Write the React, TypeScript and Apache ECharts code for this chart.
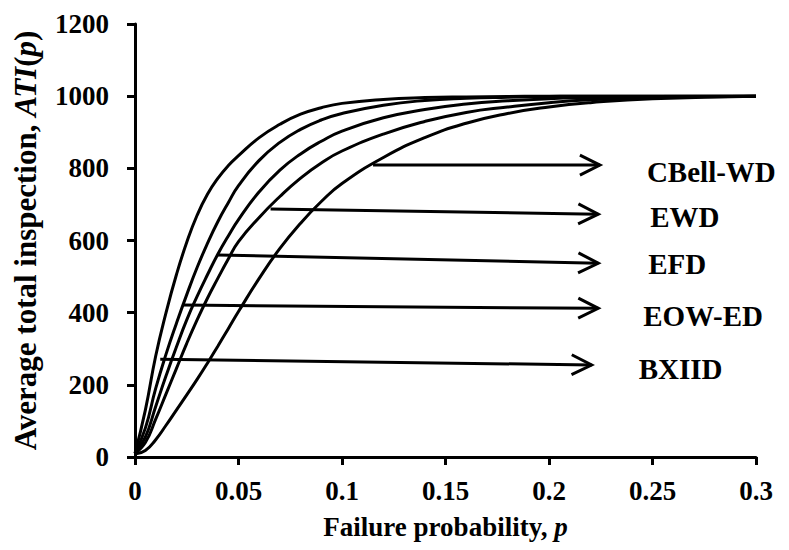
import React, { useEffect, useRef } from "react";
import * as echarts from "echarts";

const pValues = [0, 0.005, 0.01, 0.015, 0.02, 0.025, 0.03, 0.035, 0.04, 0.045, 0.05, 0.06, 0.07, 0.08, 0.09, 0.1, 0.12, 0.14, 0.16, 0.18, 0.2, 0.22, 0.25, 0.3];
const bxiid = [10, 130, 280, 400, 505, 595, 670, 728, 772, 807, 835, 885, 922, 950, 968, 980, 991, 996, 998, 999, 1000, 1000, 1000, 1000];
const eowed = [10, 80, 190, 285, 370, 450, 525, 592, 652, 704, 752, 822, 872, 908, 934, 952, 975, 988, 994, 997, 999, 1000, 1000, 1000];
const efd = [10, 55, 140, 225, 305, 380, 445, 505, 562, 612, 658, 735, 795, 840, 875, 903, 940, 963, 978, 987, 993, 996, 999, 1000];
const ewd = [10, 40, 105, 175, 245, 315, 380, 440, 495, 548, 597, 664, 722, 773, 815, 848, 895, 930, 955, 970, 982, 990, 996, 1000];
const cbellwd = [8, 18, 48, 88, 130, 172, 215, 260, 307, 355, 403, 495, 578, 648, 708, 758, 830, 885, 925, 952, 970, 982, 993, 1000];

const curveNames = ["BXIID", "EOW-ED", "EFD", "EWD", "CBell-WD"];
const curveValues = [bxiid, eowed, efd, ewd, cbellwd];

const arrowNames = ["CBell-WD", "EWD", "EFD", "EOW-ED", "BXIID"];
const arrowStartP = [0.115, 0.0655, 0.04, 0.0231, 0.0122];
const arrowStartATI = [809, 687, 560, 421, 271];
const arrowEndP = [0.2246, 0.2238, 0.2238, 0.2238, 0.2206];
const arrowEndATI = [809, 673, 537, 412, 255];

const xTicks = [0, 0.05, 0.1, 0.15, 0.2, 0.25, 0.3];
const yTicks = [0, 200, 400, 600, 800, 1000, 1200];

const FONT = "Liberation Serif, Times New Roman, Tinos, DejaVu Serif, serif";
const labelOffsets = [[47, 7], [52, 3], [50, 1], [45, 8], [47, 4]];

export default function App() {
  const ref = useRef<HTMLDivElement>(null);
  useEffect(() => {
    if (!ref.current) return;
    const chart = echarts.init(ref.current, undefined, { renderer: "svg" });
    const lineSeries = curveNames.map((name, i) => ({
      name,
      type: "line",
      data: pValues.map((p, j) => [p, curveValues[i][j]]),
      showSymbol: false,
      smooth: 0.5,
      lineStyle: { color: "#000", width: 3 },
      z: 3,
    }));
    const arrowData = arrowNames.map((n, i) => [arrowStartP[i], arrowStartATI[i], arrowEndP[i], arrowEndATI[i], i]);
    const arrowSeries = {
      type: "custom",
      data: arrowData,
      encode: { x: [0, 2], y: [1, 3] },
      z: 4,
      renderItem: (params: any, api: any) => {
        const a = api.coord([api.value(0), api.value(1)]);
        const b = api.coord([api.value(2), api.value(3)]);
        const idx = api.value(4);
        const dx = b[0] - a[0];
        const dy = b[1] - a[1];
        const len = Math.sqrt(dx * dx + dy * dy);
        const ux = dx / len;
        const uy = dy / len;
        const L = 20;
        const W = 10;
        const p1 = [b[0] - L * ux - W * uy, b[1] - L * uy + W * ux];
        const p2 = [b[0] - L * ux + W * uy, b[1] - L * uy - W * ux];
        const off = labelOffsets[idx];
        return {
          type: "group",
          children: [
            {
              type: "line",
              shape: { x1: a[0], y1: a[1], x2: b[0], y2: b[1] },
              style: { stroke: "#000", lineWidth: 3 },
            },
            {
              type: "polyline",
              shape: { points: [p1, b, p2] },
              style: { stroke: "#000", lineWidth: 3, fill: "none" },
            },
            {
              type: "text",
              x: b[0] + off[0],
              y: b[1] + off[1],
              style: {
                text: arrowNames[idx],
                fill: "#000",
                fontSize: 29,
                fontWeight: "bold",
                fontFamily: FONT,
                textAlign: "left",
                textVerticalAlign: "middle",
              },
            },
          ],
        };
      },
    };
    chart.setOption({
      animation: false,
      backgroundColor: "#fff",
      textStyle: { fontFamily: FONT },
      grid: { left: 135, right: 33, top: 24, bottom: 93, containLabel: false, outerBoundsMode: "none" },
      xAxis: {
        type: "value",
        min: 0,
        max: 0.3,
        interval: 0.05,
        name: "Failure probability, {i|p}",
        nameLocation: "middle",
        nameGap: 56,
        nameTextStyle: {
          color: "#000",
          fontSize: 27,
          fontWeight: "bold",
          fontFamily: FONT,
          rich: { i: { fontStyle: "italic", fontWeight: "bold", fontSize: 27, fontFamily: FONT, color: "#000" } },
        },
        axisLine: { lineStyle: { color: "#000", width: 3 } },
        axisTick: { show: true, inside: false, length: 8, lineStyle: { color: "#000", width: 3 } },
        axisLabel: {
          color: "#000",
          fontSize: 27,
          fontWeight: "bold",
          fontFamily: FONT,
          margin: 20,
          formatter: (v: number) => String(xTicks.find((t) => Math.abs(t - v) < 1e-9) ?? +v.toFixed(2)),
        },
        splitLine: { show: false },
      },
      yAxis: {
        type: "value",
        min: 0,
        max: 1200,
        interval: 200,
        name: "Average total inspection, {i|ATI}({i|p})",
        nameLocation: "middle",
        nameGap: 94,
        nameRotate: 90,
        nameTextStyle: {
          color: "#000",
          fontSize: 31,
          fontWeight: "bold",
          fontFamily: FONT,
          rich: { i: { fontStyle: "italic", fontWeight: "bold", fontSize: 31, fontFamily: FONT, color: "#000" } },
        },
        axisLine: { show: true, lineStyle: { color: "#000", width: 3 } },
        axisTick: { show: true, inside: false, length: 8, lineStyle: { color: "#000", width: 3 } },
        axisLabel: {
          color: "#000",
          fontSize: 27,
          fontWeight: "bold",
          fontFamily: FONT,
          margin: 26,
          formatter: (v: number) => String(yTicks.find((t) => t === v) ?? v),
        },
        splitLine: { show: false },
      },
      series: [...lineSeries, arrowSeries],
    });
    return () => chart.dispose();
  }, []);
  return <div ref={ref} style={{ width: 789, height: 550, position: "absolute", left: 0, top: 0 }} />;
}
